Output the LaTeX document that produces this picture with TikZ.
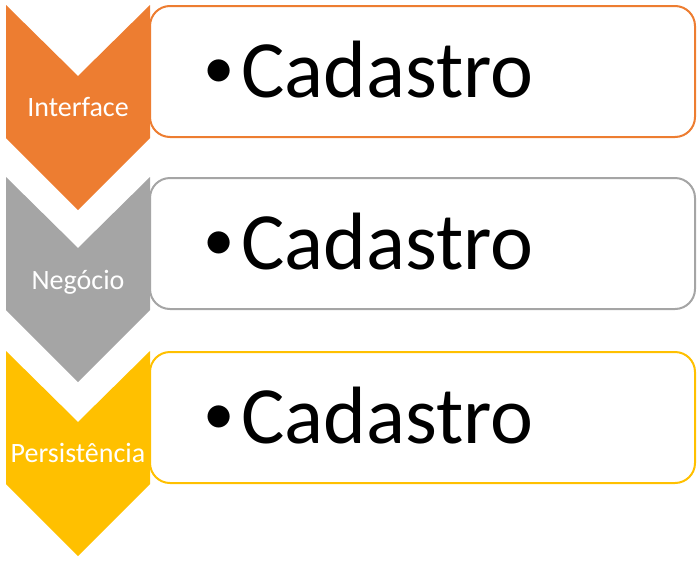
\documentclass[tikz,border=0pt]{standalone}
\usepackage{fontspec}
\setmainfont{Carlito}
\usepackage{tikz}
\usetikzlibrary{positioning}
\definecolor{ifaceorange}{HTML}{ED7D31}
\definecolor{negocgray}{HTML}{A5A5A5}
\definecolor{persgold}{HTML}{FFC000}
\newcommand{\itembullet}{\raisebox{6.75pt}{\fontsize{47}{50}\selectfont •}\hspace{5pt}}
\tikzset{
  layerbox/.style={rectangle, rounded corners=15pt, draw=#1, line width=1.5pt, fill=white, minimum width=408.75pt, minimum height=98.25pt, inner sep=0pt},
  layerlabel/.style={text=white, anchor=base, inner sep=0pt, font=\fontsize{21}{24}\selectfont},
  itemtext/.style={anchor=base west, inner sep=0pt, font=\fontsize{61}{66}\selectfont}
}

\begin{document}
\begin{tikzpicture}[x=0.75pt,y=-0.75pt]
\useasboundingbox (0,0) rectangle (700,561);

\node[layerbox=ifaceorange] (ifacebox) at (422.5,71.5) {};
\node[layerbox=negocgray] (negocbox) at (422.5,243.5) {};
\node[layerbox=persgold] (persbox) at (422.5,417.5) {};

\fill[ifaceorange] (6,5) -- (78,76) -- (150,5) -- (150,138) -- (78,210) -- (6,138) -- cycle;
\fill[negocgray] (6,177) -- (78,248) -- (150,177) -- (150,310) -- (78,382) -- (6,310) -- cycle;
\fill[persgold] (6,351) -- (78,422) -- (150,351) -- (150,484) -- (78,556) -- (6,484) -- cycle;

\node[layerlabel] (iface) at (78,116) {Interface};
\node[layerlabel] (negoc) at (78,289) {Negócio};
\node[layerlabel] (pers) at (78,462) {Persistência};

\node[itemtext] (ifaceitem) at (203,97) {\itembullet Cadastro};
\node[itemtext] (negocitem) at (203,269) {\itembullet Cadastro};
\node[itemtext] (persitem) at (203,443) {\itembullet Cadastro};
\end{tikzpicture}
\end{document}
